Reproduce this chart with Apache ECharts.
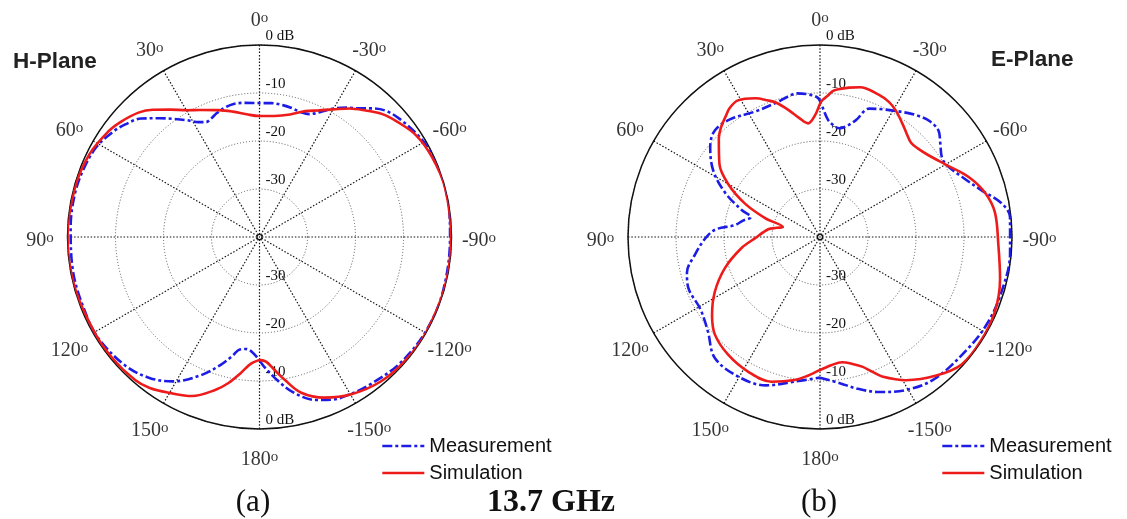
<!DOCTYPE html>
<html>
<head>
  <meta charset="utf-8">
  <script src="https://cdn.jsdelivr.net/npm/echarts@6/dist/echarts.min.js"></script>
</head>
<body style="margin: 0">
  <div id="container" style="width: 1127px; height: 519px"></div>
  <script>
    // angle in degrees (0 = top, positive to the left), value in dB
    var hMeasAngle = [-180, -178, -173, -168, -161, -156, -150, -144, -132, -119, -106, -90, -79, -69, -62, -57, -50, -45, -41, -38, -34, -30, -26, -22, -18, -14, -10, -5, 0, 6, 11, 15, 19, 22, 25, 28, 32, 36, 40, 45, 50, 54, 61, 69, 77, 87, 100, 115, 123, 134, 142, 149, 157, 163, 167, 170, 173, 176, 180];
    var hMeasDb = [-14.3, -13, -10, -7, -4.1, -2.9, -2.2, -1.65, -0.65, -0.15, -0.15, -0.3, 0, 0, -0.3, -0.8, -1.8, -2.8, -4.5, -6, -7.5, -9.1, -11, -12.4, -12.6, -12.3, -12.1, -12.0, -12.1, -11.9, -11.75, -12.1, -12.7, -13.3, -13.6, -12.9, -11.3, -9.6, -7.7, -5.1, -3.5, -2.5, -1.2, -0.7, -0.5, -0.6, -0.5, -0.4, -0.4, -1.3, -2.75, -4.9, -8.7, -12.1, -14.5, -16.2, -16.5, -16.1, -14.3];

    var hSimAngle = [-180, -177, -174, -170, -165, -158, -150, -140, -130, -120, -105, -90, -75, -65, -57, -50, -45, -40, -35, -30, -25, -20, -14, -7, 0, 6, 12, 18, 25, 30, 35, 40, 44, 50, 55, 64, 75, 90, 105, 120, 130, 139, 144, 150, 157, 164, 168, 172, 176, 180];
    var hSimDb = [-14.4, -14.0, -12.4, -9.8, -6.4, -3.9, -2.1, -0.7, -0.2, 0, 0, -0.1, 0, -0.4, -1.1, -2.6, -3.8, -5.6, -7.3, -9.3, -10.9, -12.1, -13.7, -14.6, -14.8, -14.3, -13.3, -12.2, -10.8, -9.5, -7.6, -5.4, -3.9, -2.5, -1.6, -0.6, -0.2, 0, -0.1, -0.3, -0.3, -0.5, -1.1, -2.5, -4, -6.9, -8.9, -11.3, -13.5, -14.4];

    var eMeasAngle = [-180, -172, -166, -159, -151, -141, -127, -117, -107, -95, -90, -84, -79.5, -74, -67, -60, -56.5, -52, -48, -43, -39, -35.5, -28, -21, -17, -13, -10, -7, -4, -0.7, 0.7, 3.3, 9, 13, 17, 27, 37, 44.5, 50.6, 58, 65, 71, 74, 78, 82, 86, 91, 98, 105, 111, 121, 130, 139, 150, 160, 170, 180];
    var eMeasDb = [-10.7, -9.2, -7.4, -5.4, -3.5, -2, -1.4, -0.75, -0.5, -0.25, -0.4, -0.2, -1.5, -4.9, -7.9, -9.7, -9.6, -8.2, -6.8, -6.8, -7.5, -8.3, -10, -11.35, -14.6, -16.4, -17, -16.6, -15.6, -12.5, -11.1, -10.4, -9.7, -10, -10.5, -10.6, -9.2, -8.8, -10.4, -13.75, -18.2, -22.75, -25, -23.6, -22.1, -18.1, -16, -13.7, -11.3, -10.6, -10.9, -9.5, -6.6, -6.3, -7.1, -9.4, -10.7];

    var eSimAngle = [-180, -175, -170, -166, -162, -159, -156, -149, -140, -132, -123, -113, -103, -92.6, -82, -75, -68, -60, -53, -48, -44, -40, -36, -31, -27, -22, -15, -11, -7, -5, -3, -0.5, 2.3, 6, 10, 14, 18, 21, 25, 31, 35, 38, 42, 46, 54, 60, 66, 71, 75, 78, 81.5, 91, 98, 108, 117.5, 126, 133, 142, 152, 161.5, 170, 175, 180];
    var eSimDb = [-12.3, -13.2, -13.5, -12.8, -11.6, -10, -8.2, -5.2, -2.3, -0.3, -0.1, -0.4, -1.5, -2.8, -3.2, -4.4, -6.6, -9.8, -11.7, -12.5, -12.7, -11.9, -10.8, -9.3, -8.4, -7.9, -7.7, -8.3, -9.0, -9.5, -10.6, -11.8, -14.6, -16.2, -14.8, -12.7, -10.6, -9.5, -8.1, -6.8, -7.2, -8.1, -9.2, -10.7, -14.1, -17.9, -22.9, -27.9, -32, -30.8, -29.1, -26.5, -23.5, -19.2, -15.3, -12.2, -10.1, -8.9, -8.2, -8.2, -9.75, -11, -12.3];

    // tick labels
    var angleTicks = [0, 30, 60, 90, 120, 150, 180, -150, -120, -90, -60, -30];
    var dbTicks = [-40, -30, -20, -10, 0];
    var seriesNames = ['Measurement', 'Simulation'];

    var BLUE = '#1c1ce6';
    var RED = '#ee1b1b';
    var R = 192;
    var RL = 219.5;
    var centers = [[259.5, 237], [820, 237]];

    function pairs(angles, vals) {
      return angles.map(function (a, i) { return [vals[i], a]; });
    }

    var dom = document.getElementById('container');
    var myChart = echarts.init(dom, null, { renderer: 'canvas' });

    var radLabel = {
      margin: 0,
      align: 'left',
      verticalAlign: 'bottom',
      padding: [0, 0, 1, 6],
      fontFamily: 'Liberation Serif',
      fontSize: 15,
      color: '#111',
      formatter: function (v) {
        if (v === dbTicks[0]) return '';
        if (v === 0) return '0 dB';
        return '' + v;
      }
    };

    var polar = [], angleAxis = [], radiusAxis = [], series = [];
    centers.forEach(function (c, k) {
      // main grid, radius labels on the top spoke, angle labels
      polar.push({ center: c, radius: R });
      polar.push({ center: c, radius: R });
      polar.push({ center: c, radius: RL });
      angleAxis.push({
        polarIndex: 3 * k, type: 'value', min: -180, max: 180, interval: 30,
        startAngle: 270, clockwise: false,
        axisLine: { lineStyle: { color: '#111', width: 1.5 } },
        axisTick: { show: false },
        axisLabel: { show: false },
        splitLine: { lineStyle: { color: '#111', type: [1.5, 1.8], width: 1.2 } }
      });
      angleAxis.push({
        polarIndex: 3 * k + 1, type: 'value', min: -180, max: 180,
        startAngle: 90, clockwise: false, show: false
      });
      angleAxis.push({
        polarIndex: 3 * k + 2, type: 'value', min: -180, max: 180,
        startAngle: 270, clockwise: false, show: false
      });
      radiusAxis.push({
        polarIndex: 3 * k, type: 'value', min: -40, max: 0, interval: 10,
        axisLine: { show: false }, axisTick: { show: false },
        axisLabel: radLabel,
        splitLine: { lineStyle: { color: '#555', type: [1, 2], width: 1 } }
      });
      radiusAxis.push({
        polarIndex: 3 * k + 1, type: 'value', min: -40, max: 0, interval: 10,
        axisLine: { show: false }, axisTick: { show: false },
        axisLabel: radLabel,
        splitLine: { show: false }
      });
      radiusAxis.push({
        polarIndex: 3 * k + 2, type: 'value', min: -40, max: 0, show: false
      });
      series.push({
        type: 'scatter', coordinateSystem: 'polar', polarIndex: 3 * k + 2,
        symbol: 'circle', symbolSize: 1, silent: true,
        itemStyle: { color: 'rgba(0,0,0,0)' },
        label: {
          show: true, position: 'inside', offset: [0, 3.5], color: '#000',
          formatter: function (p) { return '{n|' + p.value[1] + '}{s|o}'; },
          rich: {
            n: { fontFamily: 'Liberation Serif', fontSize: 20, lineHeight: 20, padding: [8, 0, 0, 0], verticalAlign: 'bottom', color: '#000' },
            s: { fontFamily: 'Liberation Serif', fontSize: 15, lineHeight: 15, verticalAlign: 'top', color: '#000' }
          }
        },
        data: angleTicks.map(function (a) { return [0, a]; })
      });
    });

    function line(name, idx, color, dash, data) {
      return {
        name: name, type: 'line', coordinateSystem: 'polar', polarIndex: idx,
        symbol: 'none', smooth: 0.35, silent: true,
        lineStyle: { color: color, width: 2.6, type: dash },
        itemStyle: { color: color },
        data: data
      };
    }

    series.push(
      line(seriesNames[0], 0, BLUE, [10, 3, 3, 3], pairs(hMeasAngle, hMeasDb)),
      line(seriesNames[1], 0, RED, 'solid', pairs(hSimAngle, hSimDb)),
      line(seriesNames[0], 3, BLUE, [10, 3, 3, 3], pairs(eMeasAngle, eMeasDb)),
      line(seriesNames[1], 3, RED, 'solid', pairs(eSimAngle, eSimDb))
    );

    var legendBase = {
      orient: 'vertical', top: 436, padding: 0,
      itemWidth: 42, itemHeight: 14, itemGap: 7,
      selectedMode: false,
      data: seriesNames,
      itemStyle: { opacity: 0 },
      lineStyle: { width: 2.6 },
      textStyle: { fontFamily: 'Liberation Sans', fontSize: 20, lineHeight: 20, color: '#111' }
    };

    var option = {
      animation: false,
      polar: polar,
      angleAxis: angleAxis,
      radiusAxis: radiusAxis,
      legend: [
        Object.assign({}, legendBase, { left: 381 }),
        Object.assign({}, legendBase, { left: 941 })
      ],
      graphic: [
        { type: 'text', x: 13, y: 62, style: { text: 'H-Plane', font: 'bold 22.5px "Liberation Sans"', fill: '#222', verticalAlign: 'middle' } },
        { type: 'text', x: 991, y: 60, style: { text: 'E-Plane', font: 'bold 22.5px "Liberation Sans"', fill: '#222', verticalAlign: 'middle' } },
        { type: 'text', x: 253, y: 503, style: { text: '(a)', font: '31px "Liberation Serif"', fill: '#111', align: 'center', verticalAlign: 'middle' } },
        { type: 'text', x: 551, y: 503, style: { text: '13.7 GHz', font: 'bold 32px "Liberation Serif"', fill: '#111', align: 'center', verticalAlign: 'middle' } },
        { type: 'text', x: 819, y: 503, style: { text: '(b)', font: '31px "Liberation Serif"', fill: '#111', align: 'center', verticalAlign: 'middle' } },
        { type: 'circle', shape: { cx: centers[0][0], cy: centers[0][1], r: 2.5 }, style: { fill: '#fff', stroke: '#111', lineWidth: 1.2 } },
        { type: 'circle', shape: { cx: centers[1][0], cy: centers[1][1], r: 2.5 }, style: { fill: '#fff', stroke: '#111', lineWidth: 1.2 } }
      ],
      series: series
    };

    myChart.setOption(option);
    window.addEventListener('resize', myChart.resize);
  </script>
</body>
</html>
